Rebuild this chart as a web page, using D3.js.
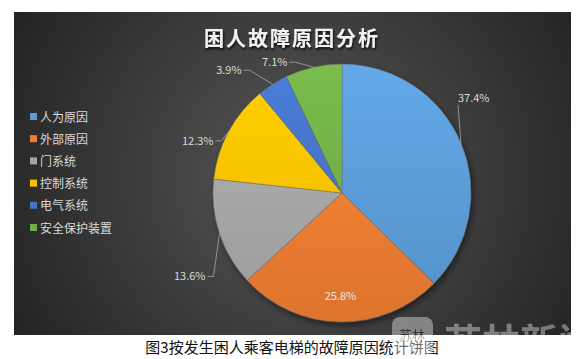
<!DOCTYPE html>
<html>
<head>
<meta charset="utf-8">
<script src="https://cdn.jsdelivr.net/npm/d3@7"></script>
<style>
  body { margin: 0; background: #fff; }
  text { font-family: "Noto Sans CJK SC", "Noto Sans", sans-serif; }
</style>
</head>
<body>
<div id="chart"></div>
<script>
// data
var categories = ["人为原因", "外部原因", "门系统", "控制系统", "电气系统", "安全保护装置"];
var percents = [37.4, 25.8, 13.6, 12.3, 3.9, 7.1];
var colors = ["#5b9bd5", "#ed7d31", "#a5a5a5", "#ffc000", "#4472c4", "#70ad47"];
var chartTitle = "困人故障原因分析";
var caption = "图3按发生困人乘客电梯的故障原因统计饼图";
var watermark = "苏林新闻";

// label placement: offsets of the leader elbow from the arc edge point
var labelLayout = [
    {dx: -3, dy: -38, side: "up"},
    {inside: true},
    {dx: -6, dy: 43, side: "left"},
    {dx: -7, dy: 9, side: "left"},
    {dx: -23, dy: -14, side: "left"},
    {dx: -18, dy: -5, side: "left"}
];

var chart = (function () {
    return {
        draw: function (placement, width, height) {
            var svg = d3.select(placement).append("svg")
                .attr("width", width)
                .attr("height", height);

            var defs = svg.append("defs");

            var bg = defs.append("radialGradient")
                .attr("id", "bg")
                .attr("gradientUnits", "userSpaceOnUse")
                .attr("cx", 300).attr("cy", 175).attr("r", 330);
            bg.append("stop").attr("offset", "0%").attr("stop-color", "#575757");
            bg.append("stop").attr("offset", "100%").attr("stop-color", "#232323");

            colors.forEach(function (c, i) {
                var g = defs.append("linearGradient")
                    .attr("id", "slice" + i)
                    .attr("gradientUnits", "userSpaceOnUse")
                    .attr("x1", 0).attr("y1", -130).attr("x2", 0).attr("y2", 130);
                g.append("stop").attr("offset", "0%").attr("stop-color", d3.color(c).brighter(0.25));
                g.append("stop").attr("offset", "100%").attr("stop-color", d3.color(c).darker(0.2));
            });

            var sh = defs.append("filter").attr("id", "shadow")
                .attr("x", "-20%").attr("y", "-20%").attr("width", "140%").attr("height", "140%");
            sh.append("feDropShadow").attr("dx", 2).attr("dy", 3).attr("stdDeviation", 3)
                .attr("flood-color", "#000").attr("flood-opacity", 0.5);

            var ts = defs.append("filter").attr("id", "tshadow");
            ts.append("feDropShadow").attr("dx", 1).attr("dy", 2).attr("stdDeviation", 1)
                .attr("flood-color", "#000").attr("flood-opacity", 0.8);

            // panel
            svg.append("rect")
                .attr("x", 14).attr("y", 12)
                .attr("width", 557).attr("height", 323)
                .attr("fill", "url(#bg)");

            svg.append("text")
                .attr("x", 292).attr("y", 46)
                .attr("text-anchor", "middle")
                .attr("fill", "#f2f2f2")
                .attr("font-size", 20)
                .attr("font-weight", "bold")
                .attr("letter-spacing", 2)
                .attr("filter", "url(#tshadow)")
                .text(chartTitle);

            // legend
            var legend = svg.append("g").attr("transform", "translate(30,117)");
            var item = legend.selectAll("g").data(categories).enter().append("g")
                .attr("transform", function (d, i) { return "translate(0," + (i * 22.2) + ")"; });
            item.append("rect")
                .attr("x", 0).attr("y", -4).attr("width", 7).attr("height", 7)
                .attr("fill", function (d, i) { return colors[i]; });
            item.append("text")
                .attr("x", 10).attr("y", 4.5)
                .attr("fill", "#d9d9d9")
                .attr("font-size", 12)
                .text(function (d) { return d; });

            // pie
            var cx = 342, cy = 193, r = 129;
            var pie = d3.pie().sort(null).value(function (d) { return d; });
            var arcs = pie(percents);
            var arc = d3.arc().innerRadius(0).outerRadius(r);
            var edge = d3.arc().innerRadius(r).outerRadius(r);
            var inner = d3.arc().innerRadius(r * 0.8).outerRadius(r * 0.8);

            var g = svg.append("g").attr("transform", "translate(" + cx + "," + cy + ")");
            g.append("g").attr("filter", "url(#shadow)")
                .selectAll("path").data(arcs).enter().append("path")
                .attr("d", arc)
                .attr("fill", function (d, i) { return "url(#slice" + i + ")"; })
                .attr("stroke", "#6b6b6b")
                .attr("stroke-width", 0.5);

            arcs.forEach(function (d, i) {
                var lay = labelLayout[i];
                var txt = d3.format(".1f")(d.data) + "%";
                if (lay.inside) {
                    var c = inner.centroid(d);
                    g.append("text")
                        .attr("x", c[0]).attr("y", c[1] + 4)
                        .attr("text-anchor", "middle")
                        .attr("fill", "#e6e6e6")
                        .attr("font-size", 11)
                        .text(txt);
                    return;
                }
                var p = edge.centroid(d);
                var e = [p[0] + lay.dx, p[1] + lay.dy];
                var pts, tx, ty, anchor;
                if (lay.side === "up") {
                    pts = [p, e];
                    tx = e[0]; ty = e[1] - 3; anchor = "start";
                } else {
                    var end = [e[0] - 6, e[1]];
                    pts = [p, e, end];
                    tx = end[0] - 2; ty = e[1] + 4; anchor = "end";
                }
                g.append("path")
                    .attr("d", d3.line()(pts))
                    .attr("fill", "none")
                    .attr("stroke", "#a6a6a6")
                    .attr("stroke-width", 0.8);
                g.append("text")
                    .attr("x", tx).attr("y", ty)
                    .attr("text-anchor", anchor)
                    .attr("fill", "#d9d9d9")
                    .attr("font-size", 11)
                    .text(txt);
            });

            svg.append("text")
                .attr("x", 292).attr("y", 353)
                .attr("text-anchor", "middle")
                .attr("fill", "#111")
                .attr("font-size", 15)
                .text(caption);

            // watermark, a pale overlay on top of everything
            var wm = svg.append("g").attr("opacity", 0.38);
            wm.append("rect")
                .attr("x", 392).attr("y", 317).attr("width", 41).attr("height", 40)
                .attr("rx", 8).attr("fill", "#fff");
            wm.append("text")
                .attr("x", 412).attr("y", 340)
                .attr("text-anchor", "middle")
                .attr("fill", "#333")
                .attr("font-size", 13)
                .text("苏林");
            wm.append("text")
                .attr("x", 444).attr("y", 356)
                .attr("fill", "#fff")
                .attr("font-size", 38)
                .attr("font-weight", "bold")
                .text(watermark);
        }
    };
})();

chart.draw("#chart", 583, 359);
</script>
</body>
</html>
